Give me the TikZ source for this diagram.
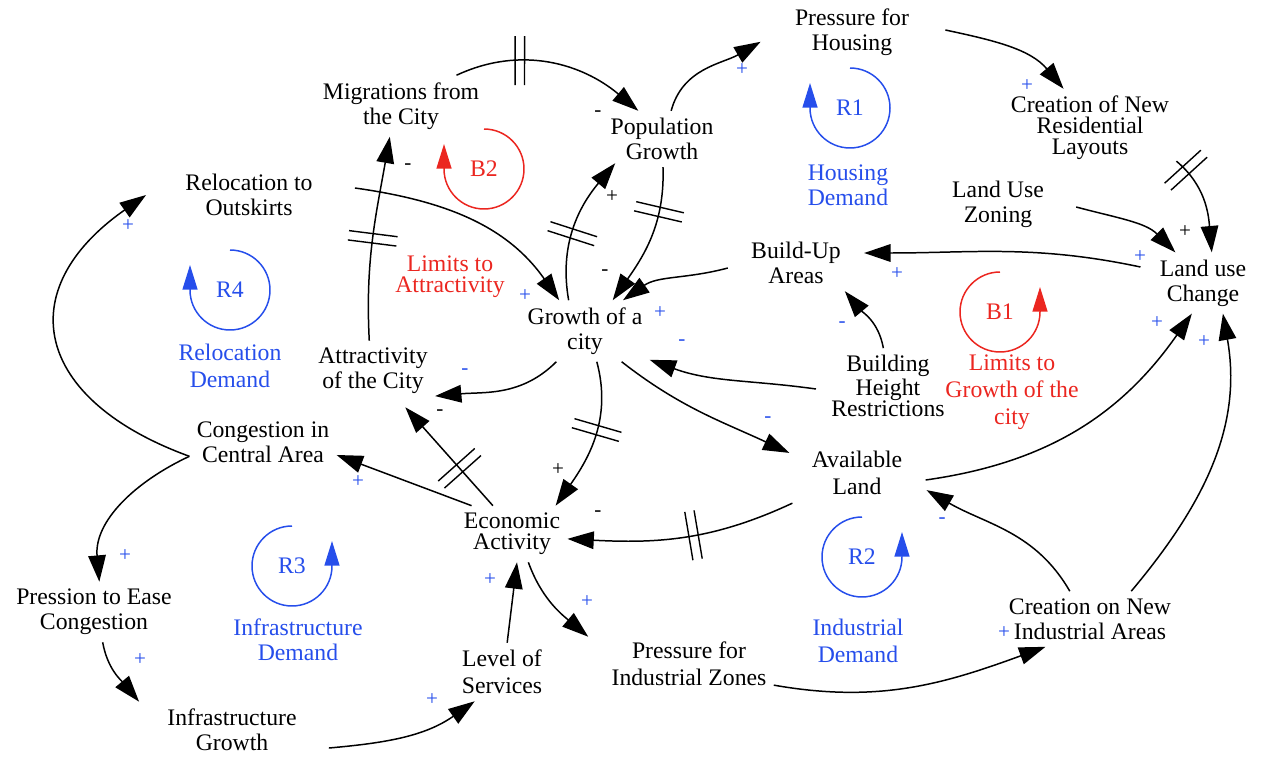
\documentclass[tikz,border=0pt]{standalone}
\usepackage{fontspec}
\setmainfont{Liberation Serif}
\usetikzlibrary{arrows.meta}
\definecolor{loopblue}{RGB}{38,78,235}
\definecolor{loopred}{RGB}{235,38,32}
\newcommand\nodefont{\fontsize{13.5}{14.2}\selectfont}
\newcommand\ecofont{\fontsize{13.5}{12}\selectfont}
\newcommand\widefont{\fontsize{13.5}{15.3}\selectfont}
\newcommand\tightfont{\fontsize{13.5}{11.9}\selectfont}
\newcommand\signfont{\fontsize{12}{12}\selectfont}
\tikzset{
  var/.style={align=center, font=\nodefont, inner sep=4pt},
  lbl/.style={align=center, font=\nodefont, inner sep=1pt},
  link/.style={line width=0.85pt, -{Triangle[length=15pt,width=10pt]}},
  sgnb/.style={font=\signfont, text=loopblue, inner sep=0pt},
  sgnk/.style={font=\signfont, text=black, inner sep=0pt},
  dly/.style={sloped, inner sep=0pt, minimum width=4.5pt, minimum height=27pt},
  loopline/.style={line width=0.85pt, -{Triangle[length=14pt,width=8.5pt]}},
}
% two short strokes across a link mark a delay
\newcommand\delaymark[1]{\draw[line width=0.8pt] (#1.north west) -- (#1.south west) (#1.north east) -- (#1.south east);}
\begin{document}
\begin{tikzpicture}[x=0.02cm, y=0.02cm]
\useasboundingbox (0,0) rectangle (1261,-757);

% variables
\node[var] (ph) at (852,-32) {Pressure for\\Housing};
\node[var] (pg) at (662,-139) {Population\\Growth};
\node[var] (mig) at (401,-106) {Migrations from\\the City};
\node[var] (rel) at (249,-195) {Relocation to\\Outskirts};
\node[var] (gc) at (585,-331) {Growth of a\\city};
\node[var] (att) at (373,-371) {Attractivity\\of the City};
\node[var] (cong) at (263,-442) {Congestion in\\Central Area};
\node[var, font=\ecofont] (eco) at (512,-534) {Economic\\Activity};
\node[var] (pec) at (94,-612) {Pression to Ease\\Congestion};
\node[var] (ig) at (232,-730) {Infrastructure\\Growth};
\node[var, font=\widefont] (los) at (502,-672) {Level of\\Services};
\node[var, font=\widefont] (piz) at (689,-664) {Pressure for\\Industrial Zones};
\node[var] (cni) at (1090,-619) {Creation on New\\Industrial Areas};
\node[var, font=\widefont] (al) at (857,-473) {Available\\Land};
\node[var, font=\tightfont] (bhr) at (888,-386) {Building\\Height\\Restrictions};
\node[var] (bua) at (796,-263) {Build-Up\\Areas};
\node[var] (luz) at (998,-204) {Land Use\\Zoning};
\node[var] (luc) at (1203,-283) {Land use\\Change};
\node[var, font=\tightfont] (cnr) at (1090,-128) {Creation of New\\Residential\\Layouts};

% loop labels
\node[lbl, text=loopblue] (r1) at (850,-108) {R1};
\node[lbl, text=loopblue] (r1n) at (848,-185) {Housing\\Demand};
\node[lbl, text=loopred] (b2) at (484,-169) {B2};
\node[lbl, text=loopred, font=\tightfont] (b2n) at (450,-277) {Limits to\\Attractivity};
\node[lbl, text=loopblue] (r4) at (230,-290) {R4};
\node[lbl, text=loopblue, font=\widefont] (r4n) at (230,-366) {Relocation\\Demand};
\node[lbl, text=loopred] (b1) at (1000,-312) {B1};
\node[lbl, text=loopred, font=\widefont] (b1n) at (1012,-392) {Limits to\\Growth of the\\city};
\node[lbl, text=loopblue] (r3) at (292,-566) {R3};
\node[lbl, text=loopblue] (r3n) at (298,-640) {Infrastructure\\Demand};
\node[lbl, text=loopblue] (r2) at (862,-557) {R2};
\node[lbl, text=loopblue, font=\widefont] (r2n) at (858,-641) {Industrial\\Demand};

% loop circles
\draw[loopline, loopblue] ([shift={(90:40)}]r1.center) arc[start angle=90, end angle=-180, radius=0.8cm] -- ++(0,25);
\draw[loopline, loopred] ([shift={(90:40)}]b2.center) arc[start angle=90, end angle=-180, radius=0.8cm] -- ++(0,25);
\draw[loopline, loopblue] ([shift={(90:40)}]r4.center) arc[start angle=90, end angle=-180, radius=0.8cm] -- ++(0,25);
\draw[loopline, loopred] ([shift={(90:40)}]b1.center) arc[start angle=90, end angle=360, radius=0.8cm] -- ++(0,25);
\draw[loopline, loopblue] ([shift={(90:40)}]r3.center) arc[start angle=90, end angle=360, radius=0.8cm] -- ++(0,25);
\draw[loopline, loopblue] ([shift={(90:40)}]r2.center) arc[start angle=90, end angle=360, radius=0.8cm] -- ++(0,25);

% links
\draw[link] (mig.29) to[out=25,in=140] node[dly,pos=0.33] (d1) {} (pg.130);
\delaymark{d1}
\draw[link] (pg.72) to[out=75,in=210] ([shift={(-27,-3)}]ph.186);
\draw[link] ([shift={(29,2)}]ph.east) to[out=-12,in=130] (cnr.124);
\draw[link] (cnr.-21) to[out=-40,in=95] node[dly,pos=0.12] (d4) {} (luc.74);
\delaymark{d4}
\draw[link] ([shift={(25,-3)}]luz.east) to[out=-15,in=135] (luc.132);
\draw[link] ([shift={(-12,16)}]luc.west) to[out=168,in=0] ([shift={(16,10)}]bua.east);
\draw[link] ([shift={(-16,-5)}]bua.west) to[out=195,in=35] (gc.39);
\draw[link] (bhr.97) to[out=100,in=-50] (bua.-30);
\draw[link] ([shift={(-8,-3)}]bhr.west) to[out=172,in=-20] (gc.-24);
\draw[link] (pg.-88) to[out=-88,in=55] node[dly,pos=0.3] (d10) {} (gc.48);
\delaymark{d10}
\draw[link] (gc.118) to[out=100,in=-130] node[dly,pos=0.45] (d11) {} ([shift={(12,4)}]pg.south west);
\delaymark{d11}
\draw[link] ([shift={(35,7)}]rel.east) to[out=-8,in=125] (gc.130);
\draw[link] (att.97) to[out=93,in=-100] node[dly,pos=0.5] (d13) {} (mig.250);
\delaymark{d13}
\draw[link] (gc.227) to[out=225,in=5] (att.-22);
\draw[link] (eco.124) -- node[dly,pos=0.38] (d15) {} ([shift={(6,-6)}]att.-49);
\delaymark{d15}
\draw[link] (eco.145) -- (cong.-10);
\draw[link] (gc.-69) to[out=-75,in=55] node[dly,pos=0.45] (d17) {} (eco.33);
\delaymark{d17}
\draw[link] ([shift={(-12,-1)}]al.south west) to[out=205,in=-3] node[dly,pos=0.45] (d18) {} (eco.-5);
\delaymark{d18}
\draw[link] (gc.-40) to[out=-38,in=155] ([shift={(-15,4)}]al.163);
\draw[link] ([shift={(16,-7)}]al.east) to[out=8,in=-125] (luc.-110);
\draw[link] (cni.126) to[out=120,in=-30] ([shift={(17,-4)}]al.-14);
\draw[link] (cni.34) to[out=50,in=-80] (luc.-57);
\draw[link] (eco.-60) to[out=-70,in=140] ([shift={(-16,-2)}]piz.north west);
\draw[link] (piz.-14) to[out=-10,in=200] (cni.212);
\draw[link] (los.80) -- (eco.-80);
\draw[link] ([shift={(25,-18)}]ig.east) to[out=5,in=215] (los.227);
\draw[link] (pec.-74) to[out=-80,in=130] ([shift={(-21,0)}]ig.north west);
\draw[link] (cong.191) to[out=205,in=95] (pec.80);
\draw[link] (cong.191) to[out=160,in=215,looseness=1.6] ([shift={(-32,0)}]rel.west);

% link polarities
\node[sgnb] (s1) at (742,-70) {+};
\node[sgnb] (s2) at (1027,-86) {+};
\node[sgnb] (s3) at (1140,-257) {+};
\node[sgnb] (s4) at (897,-274) {+};
\node[sgnb] (s5) at (660,-313) {+};
\node[sgnb] (s6) at (842,-325) {-};
\node[sgnb] (s7) at (682,-343) {-};
\node[sgnb] (s8) at (525,-296) {+};
\node[sgnb] (s9) at (465,-372) {-};
\node[sgnb] (s10) at (358,-482) {+};
\node[sgnb] (s11) at (768,-420) {-};
\node[sgnb] (s12) at (1157,-323) {+};
\node[sgnb] (s13) at (942,-521) {-};
\node[sgnb] (s14) at (1204,-342) {+};
\node[sgnb] (s15) at (587,-602) {+};
\node[sgnb] (s16) at (1004,-633) {+};
\node[sgnb] (s17) at (490,-580) {+};
\node[sgnb] (s18) at (432,-700) {+};
\node[sgnb] (s19) at (140,-660) {+};
\node[sgnb] (s20) at (125,-556) {+};
\node[sgnb] (s21) at (128,-226) {+};
\node[sgnk] (s22) at (598,-114) {-};
\node[sgnk] (s23) at (1185,-232) {+};
\node[sgnk] (s24) at (605,-273) {-};
\node[sgnk] (s25) at (612,-197) {+};
\node[sgnk] (s26) at (408,-167) {-};
\node[sgnk] (s27) at (440,-413) {-};
\node[sgnk] (s28) at (558,-470) {+};
\node[sgnk] (s29) at (598,-514) {-};
\end{tikzpicture}
\end{document}
